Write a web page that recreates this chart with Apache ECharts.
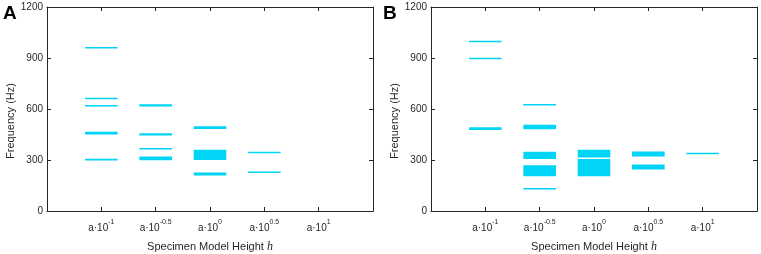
<!DOCTYPE html>
<html>
<head>
<meta charset="utf-8">
<script src="https://cdn.jsdelivr.net/npm/echarts@6/dist/echarts.min.js"></script>
<style>
  html, body { margin: 0; padding: 0; background: #fff; }
  #chart { width: 761px; height: 254px; }
</style>
</head>
<body>
<div id="chart"></div>
<script>
// x categories: specimen model height a*10^exp, placed at x = 1..5
var catExp = ['-1', '-0.5', '0', '0.5', '1'];
var yTicks = [0, 300, 600, 900, 1200];

// frequency bands [category position, low Hz, high Hz]
var bandsA = [
  [1, 958, 965], [1, 658, 666], [1, 617, 623], [1, 450, 466], [1, 297, 307],
  [2, 615, 628], [2, 444, 458], [2, 364, 370], [2, 299, 321],
  [3, 483, 499], [3, 300, 360], [3, 209, 227],
  [4, 344, 349], [4, 227, 232]
];
var bandsB = [
  [1, 996, 1002], [1, 896, 902], [1, 476, 492],
  [2, 624, 630], [2, 481, 507], [2, 306, 349], [2, 204, 269], [2, 128, 136],
  [3, 314, 361], [3, 204, 306],
  [4, 320, 350], [4, 244, 273],
  [5, 337, 342]
];

var dom = document.getElementById('chart');
var myChart = echarts.init(dom);

var ink = '#262626';
var barColor = '#00d4f7';

function renderBand(params, api) {
  var x = api.value(0);
  var p1 = api.coord([x - 0.3, api.value(2)]);
  var p2 = api.coord([x + 0.3, api.value(1)]);
  var h = Math.max(p2[1] - p1[1], 1.5);
  return {
    type: 'rect',
    shape: { x: p1[0], y: p1[1], width: p2[0] - p1[0], height: h },
    style: { fill: barColor }
  };
}

function xLabel(v) {
  if (v < 1 || v > 5) return '';
  return '{b|a·10}{s|' + catExp[v - 1] + '}';
}

var grids = [
  { left: 47, right: 388, top: 7, bottom: 43, outerBoundsMode: 'none' },
  { left: 431, right: 4, top: 7, bottom: 43, outerBoundsMode: 'none' }
];

var xAxes = [], yAxes = [];
grids.forEach(function (g, i) {
  xAxes.push({
    type: 'value', gridIndex: i, min: 0, max: 6, interval: 1,
    axisLine: { onZero: false, lineStyle: { color: ink, width: 1 } },
    axisTick: { inside: true, length: 4, lineStyle: { color: ink } },
    splitLine: { show: false },
    axisLabel: {
      margin: 8, color: ink, formatter: xLabel,
      rich: {
        b: { fontSize: 10, fontFamily: 'Liberation Sans', color: ink, lineHeight: 14, verticalAlign: 'bottom' },
        s: { fontSize: 7, fontFamily: 'Liberation Sans', color: ink, lineHeight: 7, verticalAlign: 'top' }
      }
    },
    name: '{t|Specimen Model Height }{i|h}',
    nameLocation: 'middle', nameGap: 30,
    nameTextStyle: {
      rich: {
        t: { fontSize: 11, fontFamily: 'Liberation Sans', color: ink },
        i: { fontSize: 12, fontFamily: 'Liberation Serif', fontStyle: 'italic', color: ink }
      }
    }
  });
  xAxes.push({
    type: 'value', gridIndex: i, position: 'top', min: 0, max: 6, interval: 1,
    axisLine: { onZero: false, lineStyle: { color: ink, width: 1 } },
    axisTick: { inside: true, length: 4, lineStyle: { color: ink } },
    axisLabel: { show: false }, splitLine: { show: false }
  });
  yAxes.push({
    type: 'value', gridIndex: i, min: yTicks[0], max: yTicks[yTicks.length - 1], interval: 300,
    axisLine: { show: true, onZero: false, lineStyle: { color: ink, width: 1 } },
    axisTick: { show: true, inside: true, length: 4, lineStyle: { color: ink } },
    splitLine: { show: false },
    axisLabel: {
      margin: 4, fontSize: 10, fontFamily: 'Liberation Sans', color: ink,
      formatter: function (v) { return String(v); }
    },
    name: 'Frequency (Hz)', nameLocation: 'middle', nameRotate: 90, nameGap: 22,
    nameTextStyle: { fontSize: 11, fontFamily: 'Liberation Sans', color: ink, padding: [0, 24, 0, 0] }
  });
  yAxes.push({
    type: 'value', gridIndex: i, position: 'right', min: 0, max: 1200, interval: 300,
    axisLine: { show: true, onZero: false, lineStyle: { color: ink, width: 1 } },
    axisTick: { show: true, inside: true, length: 4, lineStyle: { color: ink } },
    axisLabel: { show: false }, splitLine: { show: false }
  });
});

option = {
  backgroundColor: '#fff',
  animation: false,
  grid: grids,
  xAxis: xAxes,
  yAxis: yAxes,
  graphic: [
    { type: 'text', left: 3, top: 4, style: { text: 'A', font: 'bold 19px "Liberation Sans"', fill: '#000' } },
    { type: 'text', left: 383, top: 4, style: { text: 'B', font: 'bold 19px "Liberation Sans"', fill: '#000' } }
  ],
  series: [
    { type: 'custom', xAxisIndex: 0, yAxisIndex: 0, renderItem: renderBand, data: bandsA },
    { type: 'custom', xAxisIndex: 2, yAxisIndex: 2, renderItem: renderBand, data: bandsB }
  ]
};

if (option && typeof option === 'object') {
  myChart.setOption(option, true);
}
</script>
</body>
</html>
